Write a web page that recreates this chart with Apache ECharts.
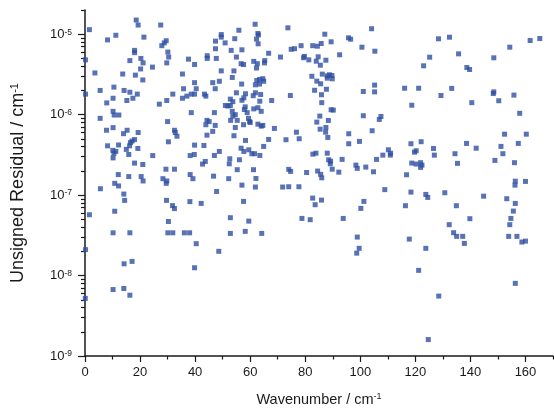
<!DOCTYPE html>
<html>
<head>
<meta charset="utf-8">
<script src="https://cdn.jsdelivr.net/npm/echarts@6/dist/echarts.min.js"></script>
<style>
  html, body { margin: 0; padding: 0; background: #fff; }
  #chart { width: 554px; height: 412px; }
</style>
</head>
<body>
<div id="chart"></div>
<script>
// wavenumber (cm-1), unsigned residual (cm-1)
const points0to40 = [
  [1.6,1.14e-5],[0.2,4.8e-6],[3.6,3.3e-6],[0.2,1.8e-6],[5.5,2.0e-6],[8.2,8.5e-6],[11.2,9.7e-6],[18.6,1.5e-5],[19.3,1.3e-5],[21.4,9.2e-6],
  [18.0,6.3e-6],[18.0,5.9e-6],[16.3,4.7e-6],[20.3,5.0e-6],[21.1,4.4e-6],[20.2,3.7e-6],[24.5,3.9e-6],[18.3,3.1e-6],[21.0,2.7e-6],[13.7,3.2e-6],
  [10.5,2.2e-6],[14.2,2.0e-6],[16.3,1.9e-6],[19.0,1.8e-6],[17.4,1.6e-6],[15.2,1.5e-6],[10.2,1.6e-6],[7.9,1.4e-6],[10.2,1.1e-6],[10.6,9.9e-7],
  [12.3,9.9e-7],[5.5,9.0e-7],[27.0,1.35e-6],[27.5,1.3e-5],[27.9,7.2e-6],[28.8,7.8e-6],[29.5,8.3e-6],[30.1,6.0e-6],[30.4,5.2e-6],[29.7,4.4e-6],
  [29.7,1.5e-6],[31.9,1.8e-6],[35.4,3.2e-6],[35.8,2.1e-6],[35.4,1.6e-6],[37.6,4.9e-6],[38.6,1.8e-6],[37.0,1.7e-6],[38.6,1.06e-6],[30.0,8.2e-7],
  [30.3,4.6e-7],[32.5,6.4e-7],[32.8,6.0e-7],[33.4,5.4e-7],[38.2,3.1e-7],[39.7,3.2e-7],[7.8,6.4e-7],[10.2,6.9e-7],[15.3,6.4e-7],[19.3,6.0e-7],
  [14.0,5.8e-7],[8.2,4.1e-7],[12.2,4.2e-7],[10.1,3.6e-7],[11.2,3.5e-7],[10.5,3.3e-7],[10.2,2.9e-7],[15.0,3.7e-7],[16.2,4.1e-7],[16.5,4.5e-7],
  [17.1,4.7e-7],[18.0,4.9e-7],[15.9,3.2e-7],[19.2,3.8e-7],[18.0,2.5e-7],[21.0,2.4e-7],[24.6,3.1e-7],[12.1,1.8e-7],[15.9,1.7e-7],[20.4,1.7e-7],
  [29.4,2.1e-7],[32.5,2.1e-7],[28.3,1.6e-7],[38.2,1.8e-7],[39.2,1.6e-7],[29.7,1.5e-7],[29.5,1.4e-7],[21.1,1.5e-7],[10.8,1.4e-7],[12.2,1.3e-7],
  [5.6,1.2e-7],[14.1,1.03e-7],[14.4,8.6e-8],[29.6,8.6e-8],[31.8,7.4e-8],[32.5,6.8e-8],[38.1,8.3e-8],[1.6,5.7e-8],[10.8,6.3e-8],[30.3,4.7e-8],
  [10.2,3.4e-8],[16.3,3.4e-8],[30.1,3.4e-8],[31.9,3.4e-8],[36.1,3.4e-8],[38.0,3.4e-8],[0.2,2.1e-8],[14.2,1.4e-8],[17.1,1.5e-8],[10.2,6.7e-9],
  [14.1,6.9e-9],[16.3,5.7e-9],[0.1,5.2e-9]
];
const points40to83 = [
  [39.8,4.2e-6],[39.8,2.5e-6],[40.4,2.1e-6],[39.8,1.8e-6],[43.4,1.8e-6],[43.9,1.7e-6],[47.3,2.1e-6],[46.4,2.5e-6],[48.8,2.6e-6],[49.5,3.5e-6],
  [44.4,5.4e-6],[44.4,5.0e-6],[47.7,5.0e-6],[47.4,6.6e-6],[47.4,8.2e-6],[49.5,9.9e-6],[49.5,9.2e-6],[50.9,7.8e-6],[53.1,6.3e-6],[54.4,8.8e-6],
  [55.9,1.12e-5],[57.0,6.4e-6],[55.0,5.2e-6],[54.1,3.5e-6],[53.5,2.9e-6],[56.7,4.3e-6],[57.6,4.2e-6],[61.8,1.33e-5],[62.8,1.02e-5],[63.0,9.8e-6],
  [62.3,8.7e-6],[62.9,7.6e-6],[61.3,4.6e-6],[62.6,4.3e-6],[62.3,3.8e-6],[65.3,4.7e-6],[65.2,4.4e-6],[66.7,5.8e-6],[71.0,5.2e-6],[73.7,1.2e-5],
  [74.9,6.5e-6],[76.1,6.6e-6],[78.5,7.2e-6],[79.7,5.3e-6],[79.4,5.1e-6],[81.3,4.8e-6],[82.7,7.2e-6],[82.4,3.0e-6],[56.9,2.4e-6],[62.4,2.66e-6],
  [63.4,2.74e-6],[64.6,2.8e-6],[64.9,2.6e-6],[63.4,2.4e-6],[61.9,2.35e-6],[63.8,1.78e-6],[61.9,1.87e-6],[61.1,1.72e-6],[58.3,1.82e-6],[57.7,1.62e-6],
  [57.0,1.51e-6],[55.0,1.87e-6],[63.5,1.47e-6],[67.8,1.5e-6],[74.6,1.73e-6],[52.8,1.56e-6],[53.7,1.45e-6],[51.0,1.3e-6],[51.9,1.28e-6],[52.8,1.3e-6],
  [53.5,1.1e-6],[54.6,1.0e-6],[53.7,9.6e-7],[58.2,1.25e-6],[57.9,1.16e-6],[58.9,1.06e-6],[59.8,8.2e-7],[59.4,9.0e-7],[61.3,1.18e-6],[62.8,1.22e-6],
  [64.0,1.1e-6],[47.0,1.06e-6],[52.9,8.5e-7],[55.3,8.5e-7],[44.3,8.5e-7],[45.1,8.2e-7],[43.9,7.5e-7],[47.3,7.35e-7],[46.4,6.2e-7],[44.3,5.56e-7],
  [54.6,6.93e-7],[57.6,7.5e-7],[60.0,8.0e-7],[62.8,7.62e-7],[64.0,7.2e-7],[64.6,7.35e-7],[68.8,6.74e-7],[54.1,5.47e-7],[58.3,4.78e-7],[66.7,4.92e-7],
  [64.9,4.03e-7],[56.7,3.83e-7],[57.7,3.49e-7],[59.5,3.66e-7],[60.6,3.27e-7],[61.6,3.27e-7],[63.5,3.11e-7],[73.0,4.88e-7],[76.8,6.06e-7],[77.8,5.02e-7],
  [82.8,3.23e-7],[39.8,4.18e-7],[43.2,4.14e-7],[47.0,3.11e-7],[48.8,3.49e-7],[43.7,2.62e-7],[42.7,2.43e-7],[52.6,2.83e-7],[52.4,2.45e-7],[56.1,2.75e-7],
  [46.7,1.72e-7],[55.3,2.07e-7],[61.2,2.07e-7],[62.1,1.61e-7],[52.2,1.6e-7],[74.0,2.09e-7],[74.7,1.97e-7],[80.5,1.91e-7],
  [57.0,1.33e-7],[61.9,1.26e-7],[47.8,1.11e-7],[42.2,7.88e-8],[57.6,8.35e-8],[71.8,1.26e-7],[74.0,1.27e-7],[77.7,1.27e-7],[82.7,9.18e-8],[83.6,7.6e-8],
  [52.8,5.24e-8],[59.5,4.75e-8],[78.8,5.13e-8],[81.8,4.95e-8],[52.8,3.34e-8],[58.2,3.54e-8],[64.2,3.34e-8],[40.4,2.49e-8],[48.6,2.0e-8],[39.8,1.25e-8]
];
const points83to128 = [
  [84.4,7.1e-6],[85.8,7.66e-6],[87.1,1.0e-5],[89.4,8.05e-6],[84.7,5.24e-6],[84.0,4.62e-6],[85.5,4.12e-6],[87.5,4.75e-6],[92.5,5.55e-6],[95.7,9.02e-6],
  [96.5,8.67e-6],[100.6,6.9e-6],[104.1,1.17e-5],[105.3,6.15e-6],[86.2,3.19e-6],[88.0,3.04e-6],[88.8,3.13e-6],[89.7,3.07e-6],[88.0,2.84e-6],[89.8,2.79e-6],
  [84.2,2.61e-6],[85.6,2.42e-6],[83.4,2.01e-6],[87.7,2.07e-6],[85.9,1.77e-6],[86.0,1.41e-6],[89.4,1.15e-6],[90.2,1.14e-6],[85.3,9.6e-7],[88.4,8.47e-7],
  [84.2,8.08e-7],[87.5,6.93e-7],[85.4,6.6e-7],[87.4,6.06e-7],[88.2,5.21e-7],[83.9,3.32e-7],[88.0,3.32e-7],[88.5,2.75e-7],[89.2,2.64e-7],[89.1,2.45e-7],
  [89.8,2.1e-7],[84.5,1.99e-7],[85.6,1.81e-7],[86.0,1.64e-7],[92.2,1.93e-7],[93.4,2.78e-7],[95.8,5.79e-7],[95.8,4.35e-7],[99.7,4.65e-7],[101.1,1.94e-6],
  [105.2,2.33e-6],[105.2,1.92e-6],[101.1,9.7e-7],[107.5,9.5e-7],[106.9,8.72e-7],[104.3,6.31e-7],[98.4,2.36e-7],[98.9,2.15e-7],[102.0,2.23e-7],[104.8,1.95e-7],
  [105.9,2.78e-7],[108.2,3.14e-7],[110.2,3.66e-7],[111.0,3.32e-7],[110.9,3.14e-7],[116.1,2.13e-6],[121.2,2.13e-6],[118.7,1.31e-6],[123.0,4.05e-6],[125.2,5.18e-6],
  [118.4,4.35e-7],[122.1,4.61e-7],[120.3,3.56e-7],[119.7,3.42e-7],[126.6,3.8e-7],[126.9,3.14e-7],[116.8,1.79e-7],[118.7,2.5e-7],[120.3,2.43e-7],[121.9,2.53e-7],
  [122.4,2.36e-7],[121.9,2.21e-7],
  [108.9,1.17e-7],[118.4,1.09e-7],[123.8,1.02e-7],[124.5,9.36e-8],[116.4,7.38e-8],[85.9,8.67e-8],[101.3,8.35e-8],[100.2,6.84e-8],[93.8,5.13e-8],[98.9,3.01e-8],
  [99.6,2.18e-8],[98.7,1.9e-8],[117.8,2.84e-8],[123.8,2.18e-8],[121.2,1.16e-8],[128.5,5.56e-9],[124.7,1.6e-9]
];
const points128to170 = [
  [128.4,8.77e-6],[132.4,9.18e-6],[135.7,5.7e-6],[138.7,3.86e-6],[139.7,3.64e-6],[148.5,5.09e-6],[154.3,6.9e-6],[161.7,8.35e-6],[165.2,8.84e-6],[133.2,2.12e-6],
  [129.3,1.73e-6],[140.5,1.41e-6],[148.5,1.92e-6],[148.3,1.83e-6],[150.3,1.49e-6],[155.8,1.75e-6],[157.9,1.04e-6],[152.4,5.72e-7],[160.3,5.72e-7],[138.6,4.39e-7],
  [142.1,3.83e-7],[134.4,3.27e-7],[135.3,2.48e-7],[151.1,4.03e-7],[151.8,3.27e-7],[148.9,2.7e-7],[157.4,4.39e-7],[156.0,2.53e-7],
  [156.3,1.49e-7],[160.0,1.48e-7],[156.2,1.33e-7],[130.7,1.07e-7],[144.8,9.7e-8],[153.2,9.02e-8],[156.3,7.88e-8],[134.9,7.38e-8],[155.6,6.33e-8],[139.8,5.09e-8],
  [154.7,5.13e-8],[132.3,4.29e-8],[154.3,4.29e-8],[133.9,3.41e-8],[135.0,3.07e-8],[137.2,3.07e-8],[153.9,3.07e-8],[156.9,3.07e-8],[137.8,2.51e-8],[158.7,2.61e-8],
  [160.0,2.68e-8],[156.3,8.0e-9]
];

// tick positions
const xMajorTicks = [0, 20, 40, 60, 80, 100, 120, 140, 160];
const xMinorTicks = [10, 30, 50, 70, 90, 110, 130, 150, 170];
const yMajorTicks = [1e-9, 1e-8, 1e-7, 1e-6, 1e-5];
const yMinorTicks = [];
for (let e = -9; e <= -5; e++) {
  for (let m = 2; m <= 9; m++) {
    const v = m * Math.pow(10, e);
    if (v <= 2e-5) yMinorTicks.push(v);
  }
}

const FONT = '"Liberation Sans", Arial, sans-serif';
const INK = '#1a1a1a';
const DOT = '#2e4fa3';

const chart = echarts.init(document.getElementById('chart'));

const yLabel = v => {
  const e = Math.round(Math.log10(v));
  return '{b|10}{s|' + e + '}';
};

chart.setOption({
  animation: false,
  grid: { left: 85, right: 1, top: 10, bottom: 56 },
  xAxis: [
    {
      type: 'value', min: 0, max: 170, interval: 20,
      name: '{t|Wavenumber / cm}{s|-1}',
      nameLocation: 'middle', nameGap: 36,
      nameTextStyle: {
        rich: {
          t: { fontSize: 14.5, fontFamily: FONT, color: INK },
          s: { fontSize: 9, fontFamily: FONT, color: INK, verticalAlign: 'top' }
        }
      },
      axisLine: { lineStyle: { color: INK, width: 1.5 } },
      axisTick: { length: 6, customValues: xMajorTicks, lineStyle: { color: INK, width: 1.2 } },
      axisLabel: { customValues: xMajorTicks, margin: 10, fontSize: 13, fontFamily: FONT, color: INK },
      splitLine: { show: false }
    },
    {
      type: 'value', min: 0, max: 170, position: 'bottom',
      axisLine: { show: false },
      axisTick: { length: 3.5, customValues: xMinorTicks, lineStyle: { color: INK, width: 1.2 } },
      axisLabel: { show: false },
      splitLine: { show: false }
    }
  ],
  yAxis: [
    {
      type: 'log', logBase: 10, min: 1e-9, max: 2e-5,
      name: '{t|Unsigned Residual / cm}{s|-1}',
      nameLocation: 'middle', nameGap: 58, nameRotate: 90,
      nameTextStyle: {
        rich: {
          t: { fontSize: 18, fontFamily: FONT, color: INK },
          s: { fontSize: 11, fontFamily: FONT, color: INK, verticalAlign: 'top' }
        }
      },
      axisLine: { show: true, lineStyle: { color: INK, width: 1.5 } },
      axisTick: { show: true, length: 7, customValues: yMajorTicks, lineStyle: { color: INK, width: 1.2 } },
      axisLabel: {
        customValues: yMajorTicks, margin: 13, formatter: yLabel,
        rich: {
          b: { fontSize: 13, fontFamily: FONT, color: INK },
          s: { fontSize: 8.5, fontFamily: FONT, color: INK, verticalAlign: 'top' }
        }
      },
      splitLine: { show: false }
    },
    {
      type: 'log', logBase: 10, min: 1e-9, max: 2e-5, position: 'left',
      axisLine: { show: false },
      axisTick: { show: true, length: 4, customValues: yMinorTicks, lineStyle: { color: INK, width: 1.2 } },
      axisLabel: { show: false },
      splitLine: { show: false }
    }
  ],
  series: [points0to40, points40to83, points83to128, points128to170].map(d => ({
    type: 'scatter',
    xAxisIndex: 0,
    yAxisIndex: 0,
    symbol: 'rect',
    symbolSize: 5,
    itemStyle: { color: DOT },
    data: d
  }))
});
</script>
</body>
</html>
